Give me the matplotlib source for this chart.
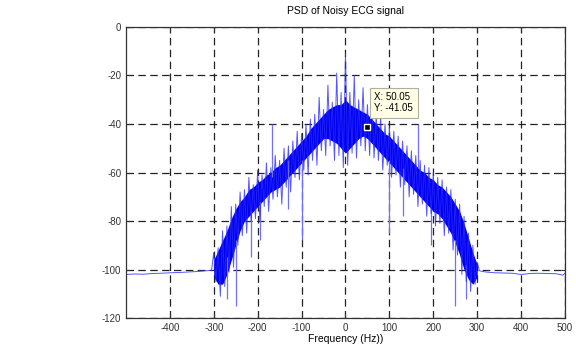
import numpy as np
import matplotlib
matplotlib.use("Agg")
import matplotlib.pyplot as plt

plt.rcParams['font.family'] = ['Liberation Sans', 'DejaVu Sans']
plt.rcParams['axes.unicode_minus'] = False

# flat noise floor outside the ECG band
floor_left_f = [-499, -480, -460, -440, -420, -400, -380, -360, -340, -320, -305]
floor_left_db = [-102.0, -101.8, -101.9, -101.6, -101.5, -101.3, -101.2, -101.0, -100.8, -100.5, -100.3]
floor_right_f = [305, 320, 340, 360, 380, 400, 420, 440, 460, 480, 495, 500]
floor_right_db = [-100.5, -101.0, -101.3, -101.4, -101.5, -102.0, -101.6, -101.5, -101.6, -101.7, -102.3, -101.5]

# noisy trace inside the band, 5 Hz steps from -300 to 300
band_f = list(range(-300, 305, 5))
band_db = [
    -93, -105, -91, -111, -84, -107, -82, -101, -74, -99,
    -73, -90, -68, -86, -67, -85, -62, -80, -65, -79,
    -59, -80, -61, -74, -56, -76, -58, -71, -53, -70,
    -55, -73, -50, -66, -49, -68, -47, -62, -43, -63,
    -44, -59, -40, -61, -38, -55, -36, -57, -29, -51,
    -34, -53, -24, -49, -31, -55, -19, -53, -27, -58,
    -11,
    -57, -27, -52, -20, -54, -30, -49, -25, -51,
    -32, -53, -30, -54, -36, -55, -37, -59, -40, -57,
    -41, -62, -43, -61, -45, -66, -47, -65, -49, -70,
    -51, -69, -53, -74, -55, -73, -57, -78, -58, -77,
    -60, -82, -62, -81, -63, -86, -66, -85, -67, -92,
    -71, -94, -73, -102, -78, -105, -85, -109, -90, -106,
    -97,
]

# dense core of the spectrum, 10 Hz steps
core_f = list(range(-300, 310, 10))
core_hi = [-96, -92, -88, -84, -79, -75, -72, -70, -67, -66,
           -64, -63, -61, -60, -58, -57, -55, -53, -51, -49,
           -47, -45, -42, -40, -38, -36, -34, -33, -32, -32,
           -30,
           -32, -33, -34, -35, -36, -38, -40, -42, -44, -45,
           -47, -49, -51, -53, -55, -57, -59, -60, -62, -63,
           -65, -66, -68, -70, -73, -76, -81, -87, -93, -98]
core_lo = [-103, -106, -106, -102, -96, -90, -84, -80, -78, -76,
           -74, -72, -70, -68, -67, -66, -64, -62, -60, -58,
           -56, -54, -52, -50, -48, -46, -46, -47, -48, -50,
           -52,
           -50, -48, -46, -45, -46, -48, -50, -52, -54, -56,
           -58, -60, -62, -64, -66, -68, -70, -72, -74, -76,
           -77, -79, -82, -85, -89, -94, -100, -104, -106, -103]

# isolated spikes
spike_f = [-250, 250, -168, 165, -100, 100, -215, -195, 195, -130, 130, -270, 275]
spike_top = [-88, -88, -40, -40, -55, -55, -76, -72, -75, -55, -58, -95, -98]
spike_bot = [-115, -115, -62, -58, -88, -85, -95, -88, -90, -75, -78, -112, -112]

tip_x, tip_y = 50.05, -41.05

freq = floor_left_f + band_f + floor_right_f
psd = floor_left_db + band_db + floor_right_db

fig = plt.figure(figsize=(5.76, 3.5), dpi=100)
ax = fig.add_axes([0.219, 0.091, 0.762, 0.832])

ax.fill_between(core_f, core_lo, core_hi, color='#0000f0', lw=0)
ax.vlines(spike_f, spike_bot, spike_top, color='#7070ff', lw=0.9)
ax.plot(freq, psd, color='#2a2aff', lw=0.7, alpha=0.8)

ax.set_xlim(-499.5, 500)
ax.set_ylim(-120, 0)
ax.set_xticks(np.arange(-400, 501, 100))
ax.set_yticks(np.arange(-120, 1, 20))
ax.grid(True, color='#222222', linestyle=(0, (6, 3.5)), lw=0.9)
ax.set_axisbelow(True)
ax.tick_params(direction='in', top=True, right=True, labelsize=7, length=3,
               colors='#333333')
for s in ax.spines.values():
    s.set_color('#333333')
    s.set_linewidth(0.9)

ax.set_title('PSD of Noisy ECG signal', fontsize=7.5, pad=9)
ax.set_xlabel('Frequency (Hz))', fontsize=7.5, labelpad=1)

# data tip
ax.plot([tip_x], [tip_y], marker='s', ms=4.5, color='black', mec='white', mew=1.0)
ax.text(66, -26.8, f'X: {tip_x:.2f}\nY: {tip_y:.2f}', fontsize=7, va='top', ha='left',
        linespacing=1.15,
        bbox=dict(boxstyle='square,pad=0.45', fc='#ffffe6', ec='#b0b0a0', lw=0.8))

fig.savefig('out.png', dpi=100)
